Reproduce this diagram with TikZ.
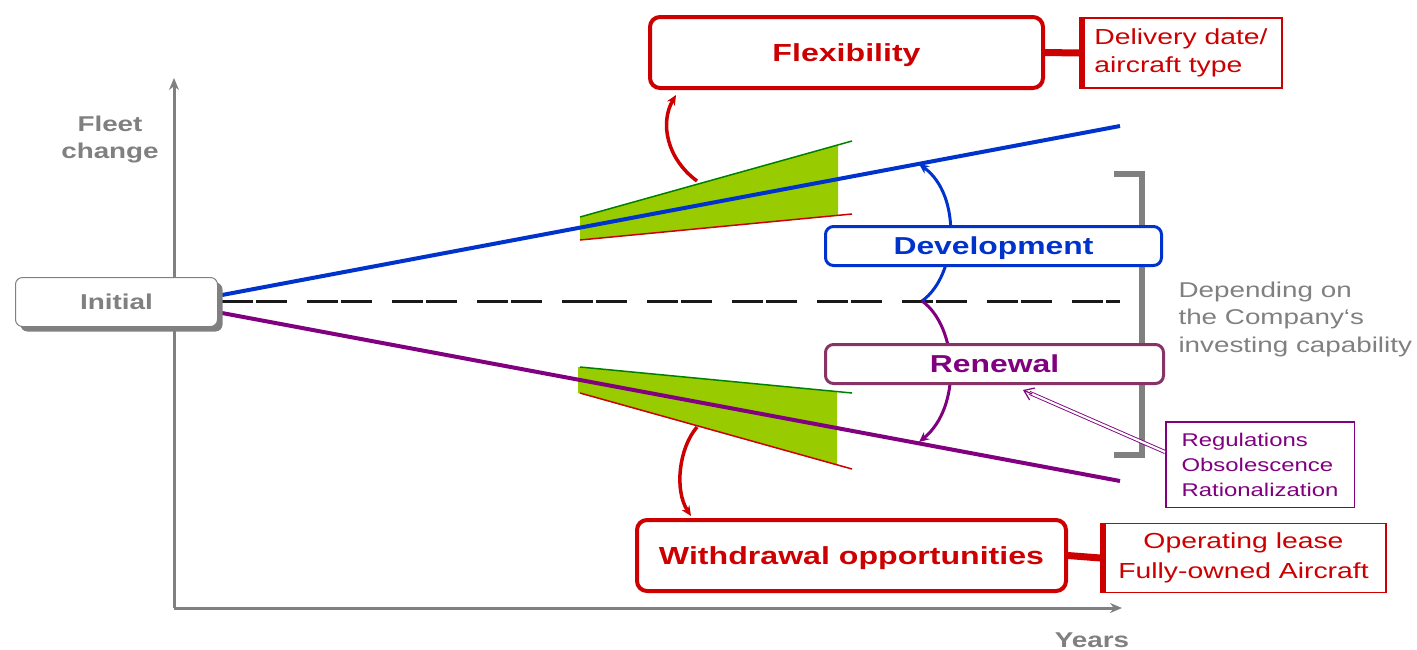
\documentclass[tikz,border=0pt]{standalone}
\usepackage{fontspec}
\setmainfont[FakeStretch=1.3]{Liberation Sans}
\usetikzlibrary{arrows.meta,shadows,calc}
\definecolor{fred}{RGB}{204,0,0}
\definecolor{fblue}{RGB}{0,51,204}
\definecolor{fpurple}{RGB}{128,0,128}
\definecolor{renborder}{RGB}{136,51,102}
\definecolor{axgray}{RGB}{128,128,128}
\definecolor{wedgefill}{RGB}{153,204,0}
\definecolor{edgegreen}{RGB}{0,128,0}
\begin{document}
\begin{tikzpicture}[x=1pt,y=-1pt,
  axis/.style={draw=axgray, line width=3pt, -{Stealth[length=12pt,width=10pt]}},
  axlabel/.style={text=axgray, align=center, font=\fontsize{21.4}{27}\selectfont\bfseries},
  bigbox/.style={draw=fred, line width=4pt, rounded corners=10pt, fill=white, inner sep=0pt,
    text=fred, font=\fontsize{24.7}{29}\selectfont\bfseries, minimum height=71pt,
    text height=17.8pt, text depth=0pt},
  sidebox/.style={draw=fred, line width=1.5pt, fill=white, inner sep=0pt, text=fred,
    font=\fontsize{21.8}{28}\selectfont},
  midbox/.style={line width=3pt, rounded corners=8pt, fill=white, inner sep=0pt,
    font=\fontsize{24.5}{29}\selectfont\bfseries, minimum width=336pt, minimum height=39pt,
    text height=17.6pt, text depth=0pt},
  wedge/.style={fill=wedgefill},
  gedge/.style={draw=edgegreen, line width=1.5pt},
  redge/.style={draw=fred, line width=1.5pt},
  redarrow/.style={draw=fred, line width=3.5pt, -{Stealth[length=10pt,width=9pt]}},
  arc/.style={line width=3pt, -{Stealth[length=10pt,width=9pt]}},
  trend/.style={line width=4pt}
]
\useasboundingbox (0,0) rectangle (1417,649);

% axes
\coordinate (origin) at (174,608);
\coordinate (ytip) at (174,78);
\coordinate (xtip) at (1122,608);
\draw[axis] (origin) -- (ytip);
\draw[axis] (origin) -- (xtip);
\node[axlabel] (fleet) at (110,140) {Fleet\\change};
\node[axlabel] (years) at (1092,640) {Years};

% upper and lower uncertainty wedges
\fill[wedge] (580,217) -- (838,145) -- (838,215) -- (580,240) -- cycle;
\draw[gedge] (580,217) -- (852,141);
\draw[redge] (580,240) -- (852,214);
\fill[wedge] (578,367) -- (837,392) -- (837,465) -- (578,393) -- cycle;
\draw[gedge] (580,367) -- (852,393);
\draw[redge] (580,393) -- (852,469);

% trend lines
\coordinate (bstart) at (222,295);
\coordinate (bend) at (1120,126);
\coordinate (pstart) at (222,313);
\coordinate (pend) at (1120,481);
\coordinate (dstart) at (222,301);
\coordinate (dend) at (1120,301);
\draw[trend, fblue] (bstart) -- (bend);
\draw[trend, fpurple] (pstart) -- (pend);
\draw[line width=3pt, black!90, dash pattern=on 31pt off 3pt on 31pt off 20pt] (dstart) -- (dend);

% arcs from the baseline to the trend lines
\coordinate (arcbase) at (922,301);
\coordinate (devtip) at (919,164);
\coordinate (rentipline) at (919,442);
\draw[arc, fblue] (arcbase) .. controls (958,275) and (962,195) .. (devtip);
\draw[arc, fpurple] (arcbase) .. controls (958,327) and (962,407) .. (rentipline);

% bracket behind the middle boxes
\coordinate (brtop) at (1114,174);
\coordinate (brbot) at (1114,455);
\draw[axgray, line width=6pt] (brtop) -- ++(28,0) |- (brbot);

% top and bottom boxes
\node[bigbox, minimum width=393pt] (flex) at (846.5,52.5) {Flexibility};
\node[sidebox, minimum width=202pt, minimum height=70pt, align=left] (del) at (1181,53) {Delivery date/\\aircraft type};
\draw[fred, line width=7pt] (flex.east) -- (del.west);
\draw[fred, line width=6pt] ([xshift=2.5pt]del.north west) -- ([xshift=2.5pt]del.south west);

\node[bigbox, minimum width=429pt] (wd) at (851.5,555.5) {Withdrawal opportunities};
\node[sidebox, minimum width=285pt, minimum height=69pt, align=center,
  font=\fontsize{21.8}{30}\selectfont] (own) at (1243.5,558) {Operating lease\\Fully-owned Aircraft};
\draw[fred, line width=7pt] (wd.east) -- (own.west);
\draw[fred, line width=6pt] ([xshift=2.5pt]own.north west) -- ([xshift=2.5pt]own.south west);

% red arrows from wedges
\coordinate (upstart) at (697,181);
\coordinate (upend) at (676,95);
\coordinate (downstart) at (697,427);
\coordinate (downend) at (691,516);
\draw[redarrow] (upstart) .. controls (666,158) and (660,122) .. (upend);
\draw[redarrow] (downstart) .. controls (679,448) and (674,490) .. (downend);

% middle boxes
\node[midbox, draw=fblue, text=fblue] (dev) at (993.5,246) {Development};
\node[midbox, draw=renborder, text=fpurple, minimum width=338pt] (ren) at (994.5,364) {Renewal};

% note beside the bracket
\node[anchor=west, align=left, text=axgray, font=\fontsize{21.4}{27.5}\selectfont] (dep) at (1175,319)
  {Depending on\\the Company‘s\\investing capability};

% drivers of renewal
\node[draw=fpurple, line width=1.5pt, text=fpurple, align=left, fill=white,
  minimum width=188.5pt, minimum height=85.5pt, inner sep=0pt,
  font=\fontsize{18.4}{25}\selectfont] (reg) at (1260,464.5) {Regulations\\Obsolescence\\Rationalization};
\coordinate (regin) at (1165,452);
\coordinate (rentip) at (1023,390);
\draw[fpurple, line width=0.9pt, double=white, double distance=2.2pt, shorten >=7pt] (regin) -- (rentip);
\draw[fpurple, line width=1.2pt, -{Straight Barb[length=9pt,width=13pt]}] ($(rentip)!10pt!(regin)$) -- (rentip);

% starting point
\node[draw=axgray, line width=1pt, rounded corners=7pt, fill=white, minimum width=202pt,
  minimum height=49pt, text=axgray, font=\fontsize{21.5}{26}\selectfont\bfseries,
  text height=15.5pt, text depth=0pt,
  drop shadow={shadow xshift=5pt, shadow yshift=-5pt, fill=axgray, opacity=1}] (init) at (116.5,302) {Initial};
\end{tikzpicture}
\end{document}
